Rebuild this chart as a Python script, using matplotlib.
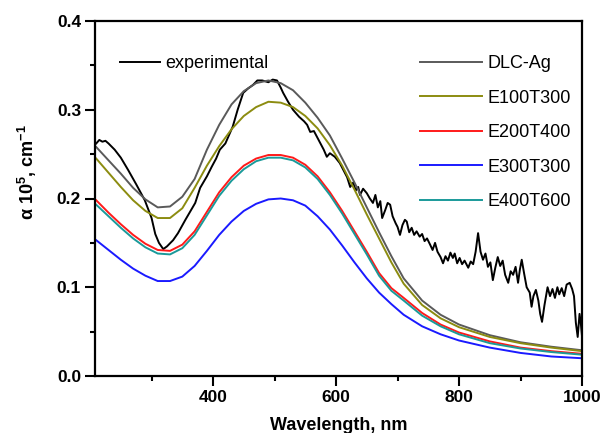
import matplotlib
matplotlib.use('Agg')
import matplotlib.pyplot as plt
from matplotlib.ticker import MultipleLocator, FormatStrFormatter

# ---------------- data ----------------
wl_model = [210, 230, 250, 270, 290, 310, 330, 350, 370, 390, 410, 430, 450, 470,
            490, 510, 530, 550, 570, 590, 610, 630, 650, 670, 690, 710, 740, 770,
            800, 850, 900, 950, 1000]

dlc_ag = [0.258, 0.243, 0.228, 0.212, 0.199, 0.190, 0.191, 0.202, 0.222, 0.255,
          0.283, 0.306, 0.321, 0.330, 0.333, 0.330, 0.322, 0.308, 0.291, 0.271,
          0.245, 0.218, 0.190, 0.162, 0.135, 0.110, 0.085, 0.069, 0.058, 0.046,
          0.038, 0.033, 0.029]

e100t300 = [0.245, 0.229, 0.213, 0.198, 0.186, 0.178, 0.178, 0.189, 0.212, 0.237,
            0.259, 0.278, 0.293, 0.303, 0.309, 0.308, 0.303, 0.293, 0.279, 0.260,
            0.237, 0.210, 0.182, 0.155, 0.128, 0.104, 0.080, 0.065, 0.055, 0.044,
            0.037, 0.032, 0.028]

e200t400 = [0.198, 0.184, 0.171, 0.159, 0.149, 0.142, 0.141, 0.148, 0.163, 0.185,
            0.207, 0.224, 0.237, 0.245, 0.249, 0.249, 0.246, 0.238, 0.225, 0.207,
            0.186, 0.163, 0.140, 0.116, 0.099, 0.088, 0.071, 0.058, 0.049, 0.039,
            0.032, 0.028, 0.025]

e300t300 = [0.153, 0.142, 0.131, 0.121, 0.113, 0.107, 0.107, 0.112, 0.124, 0.141,
            0.159, 0.174, 0.186, 0.194, 0.199, 0.200, 0.198, 0.192, 0.180, 0.165,
            0.147, 0.128, 0.110, 0.094, 0.081, 0.069, 0.056, 0.047, 0.040, 0.032,
            0.026, 0.022, 0.020]

e400t600 = [0.193, 0.180, 0.167, 0.155, 0.145, 0.138, 0.137, 0.144, 0.159, 0.181,
            0.203, 0.220, 0.233, 0.242, 0.246, 0.246, 0.243, 0.235, 0.222, 0.204,
            0.183, 0.160, 0.137, 0.113, 0.096, 0.085, 0.068, 0.056, 0.047, 0.037,
            0.031, 0.027, 0.024]

wl_exp = [210, 215, 220, 225, 230, 240, 250, 262, 275, 289, 300, 306, 312, 319,
          325, 335, 343, 355, 371, 379, 390, 398, 405, 411, 420, 432, 440, 449,
          457, 465, 472, 480, 490, 497, 504, 510, 514, 522, 530, 540, 548, 553,
          558, 564, 574, 580, 585,
          590, 598, 606, 612, 618, 623, 628, 632, 636, 639, 644, 650, 655, 660,
          664, 668, 672, 675, 680, 684, 688, 692, 697, 700, 704, 708, 712, 715,
          719, 723, 727, 731, 736, 740, 744, 748, 753, 757, 761, 765, 770, 774,
          778, 782, 786, 790, 793, 797, 801, 805, 809, 815, 819, 823, 827, 831,
          835, 839, 843, 847, 851, 855, 859, 863, 867, 871, 875, 880, 884, 888,
          892, 896, 899, 902, 906, 910, 915, 918, 921, 925, 929, 932, 935, 939,
          944, 948, 952, 956, 960, 963, 967, 971, 975, 980, 984, 987, 990, 993,
          996, 998, 1000]

experimental = [0.262, 0.266, 0.264, 0.265, 0.262, 0.255, 0.246, 0.232, 0.216,
                0.198, 0.178, 0.160, 0.150, 0.143, 0.146, 0.153, 0.161, 0.176,
                0.195, 0.212, 0.225, 0.236, 0.245, 0.255, 0.262, 0.281, 0.300,
                0.319, 0.324, 0.328, 0.333, 0.333, 0.331, 0.334, 0.333, 0.325,
                0.319, 0.309, 0.300, 0.292, 0.287, 0.283, 0.275, 0.276, 0.263,
                0.255, 0.247,
                0.251, 0.247, 0.240, 0.232, 0.224, 0.213, 0.218, 0.209, 0.213,
                0.204, 0.211, 0.206, 0.200, 0.195, 0.204, 0.190, 0.197, 0.178,
                0.187, 0.195, 0.193, 0.180, 0.172, 0.168, 0.159, 0.170, 0.176,
                0.174, 0.162, 0.167, 0.159, 0.163, 0.157, 0.160, 0.152, 0.155,
                0.148, 0.142, 0.150, 0.140, 0.134, 0.127, 0.135, 0.130, 0.139,
                0.133, 0.138, 0.127, 0.133, 0.126, 0.130, 0.122, 0.129, 0.126,
                0.140, 0.161, 0.140, 0.131, 0.138, 0.123, 0.128, 0.108, 0.122,
                0.134, 0.124, 0.130, 0.114, 0.105, 0.118, 0.114, 0.123, 0.105,
                0.120, 0.131, 0.115, 0.100, 0.094, 0.078, 0.090, 0.097, 0.085,
                0.070, 0.061, 0.080, 0.100, 0.090, 0.098, 0.088, 0.100, 0.092,
                0.099, 0.090, 0.103, 0.105, 0.098, 0.090, 0.060, 0.044, 0.070,
                0.060, 0.045]

series = [
    ("DLC-Ag", dlc_ag, "#5a5a5a"),
    ("E100T300", e100t300, "#8c8c10"),
    ("E200T400", e200t400, "#ff1a1a"),
    ("E300T300", e300t300, "#1a1aff"),
    ("E400T600", e400t600, "#1a9a9a"),
]

x_ticks = [400, 600, 800, 1000]
y_ticks = [0.0, 0.1, 0.2, 0.3, 0.4]

# ---------------- figure ----------------
plt.rcParams['font.family'] = ['Liberation Sans', 'DejaVu Sans']
plt.rcParams['mathtext.fontset'] = 'custom'
plt.rcParams['mathtext.rm'] = 'Liberation Sans:bold'
plt.rcParams['mathtext.it'] = 'Liberation Sans:bold'
plt.rcParams['mathtext.bf'] = 'Liberation Sans:bold'
plt.rcParams['mathtext.default'] = 'rm'

fig = plt.figure(figsize=(6.08, 4.33), dpi=100)
ax = fig.add_axes([95 / 608, 57 / 433, 487 / 608, 355 / 433])

exp_line, = ax.plot(wl_exp, experimental, color='black', lw=1.4, label='experimental')
model_lines = []
for name, vals, col in series:
    ln, = ax.plot(wl_model, vals, color=col, lw=1.4, label=name)
    model_lines.append(ln)

ax.set_xlim(208, 1000)
ax.set_ylim(0.0, 0.4)
ax.set_xticks(x_ticks)
ax.set_yticks(y_ticks)
ax.xaxis.set_minor_locator(MultipleLocator(100))
ax.yaxis.set_minor_locator(MultipleLocator(0.05))
ax.yaxis.set_major_formatter(FormatStrFormatter('%.1f'))

for s in ax.spines.values():
    s.set_linewidth(1.6)
ax.tick_params(which='major', direction='out', length=7, width=1.5,
               labelsize=12.5, pad=3)
ax.tick_params(which='minor', direction='out', length=3.5, width=1.5)
for lab in ax.get_xticklabels() + ax.get_yticklabels():
    lab.set_fontweight('bold')

ax.set_xlabel('Wavelength, nm', fontsize=13, fontweight='bold', labelpad=9)
ax.set_ylabel('α 10$^{5}$, cm$^{-1}$', fontsize=13, fontweight='bold')
ax.yaxis.set_label_coords(-0.115, 0.575)

leg1 = ax.legend(handles=[exp_line], loc='upper left',
                 bbox_to_anchor=(120 / 608, 1 - 55 / 433), bbox_transform=fig.transFigure,
                 frameon=False, fontsize=13, handlelength=2.2, handletextpad=0.3,
                 borderpad=0, borderaxespad=0)
ax.add_artist(leg1)
ax.legend(handles=model_lines, loc='upper left',
          bbox_to_anchor=(420 / 608, 1 - 55 / 433), bbox_transform=fig.transFigure,
          frameon=False, fontsize=13, handlelength=3.45, handletextpad=0.3,
          labelspacing=0.97, borderpad=0, borderaxespad=0)

fig.savefig('out.png', dpi=100)
